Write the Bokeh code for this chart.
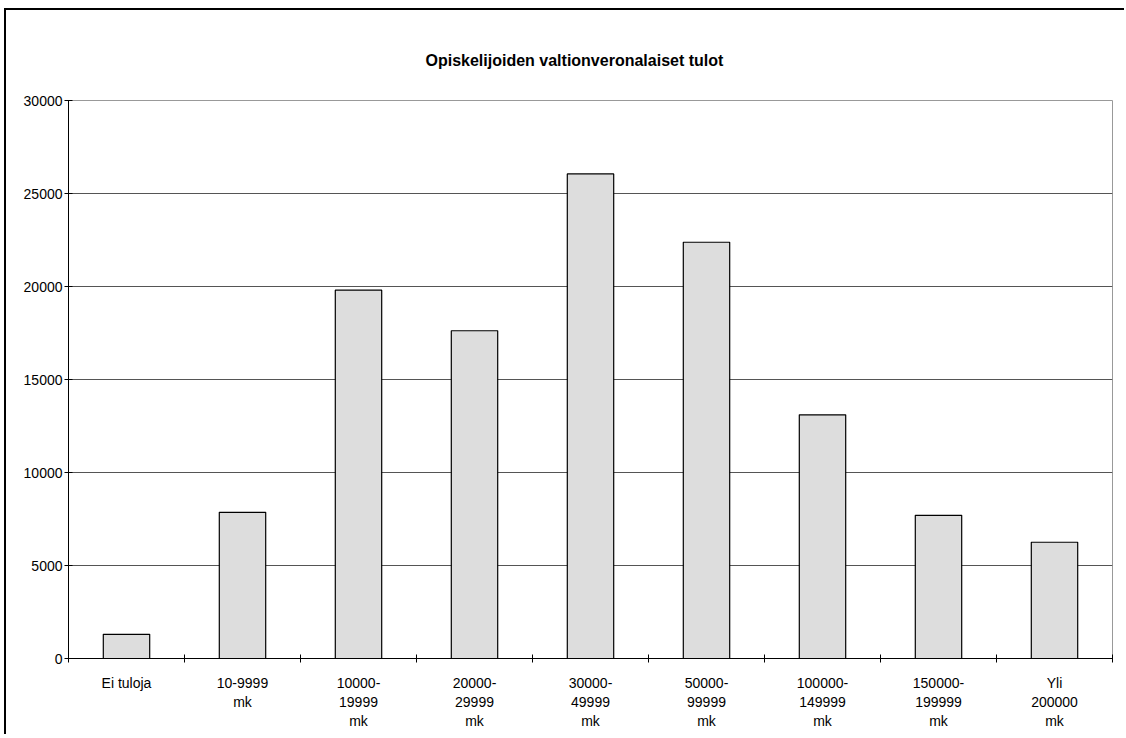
from bokeh.plotting import figure
from bokeh.models import Range1d, FixedTicker
from bokeh.embed import file_html
from bokeh.resources import INLINE

categories = ["Ei tuloja", "10-9999\nmk", "10000-\n19999\nmk", "20000-\n29999\nmk",
              "30000-\n49999\nmk", "50000-\n99999\nmk", "100000-\n149999\nmk",
              "150000-\n199999\nmk", "Yli\n200000\nmk"]
values = [1300, 7860, 19800, 17620, 26050, 22380, 13100, 7700, 6250]
y_ticks = [0, 5000, 10000, 15000, 20000, 25000, 30000]
title_text = "Opiskelijoiden valtionveronalaiset tulot"

FONT = "Liberation Sans"
n = len(categories)
centers = [i + 0.5 for i in range(n)]
bounds = list(range(n + 1))

p = figure(frame_width=1044, frame_height=558, output_backend="svg", toolbar_location=None,
           x_range=Range1d(0, n), y_range=Range1d(0, 30000), title=title_text,
           min_border_left=62, min_border_top=90, min_border_right=12, min_border_bottom=76)
p.styles = {"border-left": "2px solid black", "border-top": "2px solid black",
            "position": "absolute", "left": "4px", "top": "8px"}

p.title.align = "left"
p.title.offset = 357
p.title.standoff = 63
p.title.text_font = FONT
p.title.text_font_style = "bold"
p.title.text_font_size = "16px"
p.title.text_color = "black"

p.vbar(x=centers, top=values, bottom=0, width=0.4, fill_color="#dddddd",
       line_color="black", line_width=1.2)

# x axis
xa = p.xaxis[0]
xa.ticker = FixedTicker(ticks=centers, minor_ticks=bounds)
xa.major_label_overrides = {c: lab for c, lab in zip(centers, categories)}
xa.major_tick_line_color = None
xa.major_tick_in = 0
xa.major_tick_out = 0
xa.minor_tick_in = 4
xa.minor_tick_out = 4
xa.minor_tick_line_color = "black"
xa.axis_line_color = "black"
xa.major_label_standoff = 12
xa.major_label_text_font = FONT
xa.major_label_text_font_size = "14px"
xa.major_label_text_color = "black"

# y axis
ya = p.yaxis[0]
ya.ticker = FixedTicker(ticks=y_ticks)
ya.major_tick_in = 4
ya.major_tick_out = 4
ya.minor_tick_line_color = None
ya.major_tick_line_color = "black"
ya.axis_line_color = "black"
ya.major_label_standoff = 2
ya.major_label_text_font = FONT
ya.major_label_text_font_size = "14px"
ya.major_label_text_color = "black"

p.xgrid.grid_line_color = None
p.ygrid.ticker = FixedTicker(ticks=y_ticks[1:-1])
p.ygrid.grid_line_color = "#555555"
p.ygrid.grid_line_width = 1

p.outline_line_color = "#999999"
p.outline_line_width = 1
p.background_fill_color = "white"
p.border_fill_color = "white"

open("out.html", "w").write(file_html(p, INLINE))
